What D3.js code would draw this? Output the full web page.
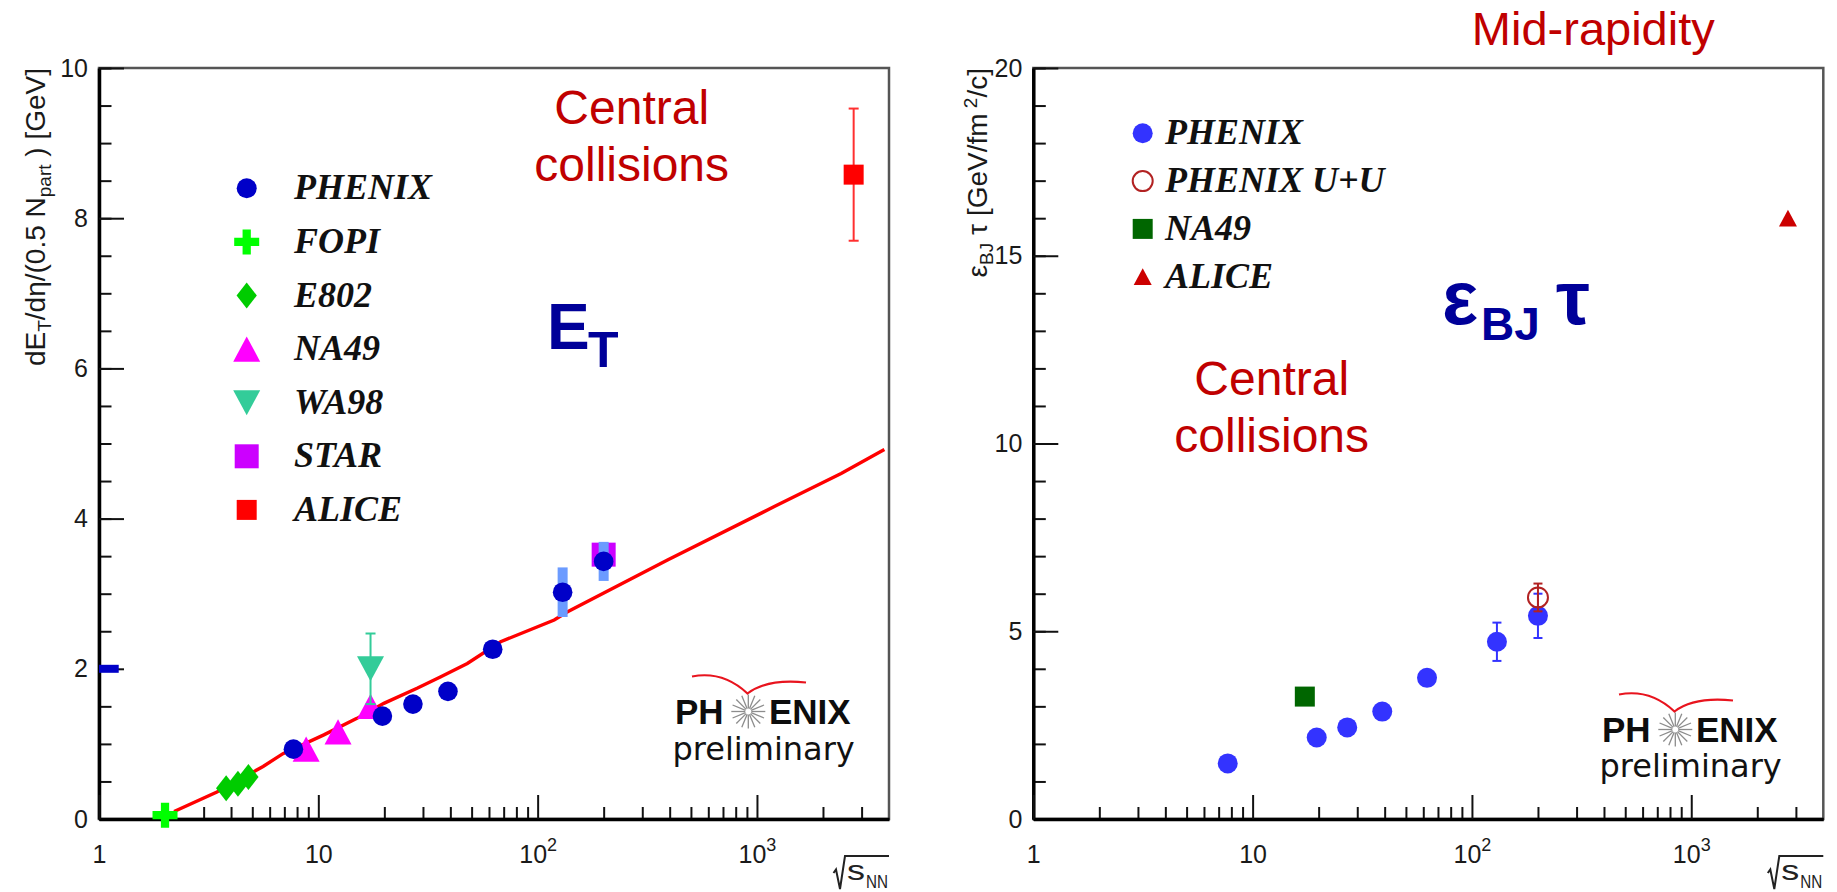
<!DOCTYPE html>
<html>
<head>
<meta charset="utf-8">
<script src="https://cdn.jsdelivr.net/npm/d3@7"></script>
<style>
body { margin: 0; background: #fff; }
svg text { font-family: "Liberation Sans", Arial, sans-serif; }
.leg { font-family: "Liberation Serif", "Times New Roman", serif; font-weight: bold; font-style: italic; }
.prelim { font-family: "DejaVu Sans", "Open Sans", sans-serif; }
</style>
</head>
<body>
<script>
//---- data: left panel, dE_T/deta per participant pair [GeV] vs sqrt(s_NN)
var phenixEtX = [7.7, 19.6, 27, 39, 62.4, 130, 200],
    phenixEtY = [0.93, 1.37, 1.53, 1.70, 2.26, 3.02, 3.43],
    phenixEtSys = [0, 0, 0, 0, 0, 0.33, 0.26];
var fopiX = [2.0], fopiY = [0.05];
var e802X = [3.8, 4.3, 4.8], e802Y = [0.41, 0.47, 0.56];
var na49EtX = [8.8, 12.3, 17.3], na49EtY = [0.93, 1.16, 1.50];
var wa98X = [17.3], wa98Y = [2.0], wa98Err = [0.47];
var starX = [200], starY = [3.52];
var aliceEtX = [2760], aliceEtY = [8.58], aliceEtErr = [0.88];
var strayX = [1, 1.23], strayY = [2.0];   //clipped blue stub at the left edge
//red fit curve
var fitX = [2.2, 3.45, 5.6, 6.9, 10.6, 15, 19.9, 28.2, 36, 47.8, 67.8, 119, 137, 391, 1200, 2420, 3810],
    fitY = [0.10, 0.36, 0.70, 0.87, 1.12, 1.34, 1.54, 1.74, 1.89, 2.07, 2.36, 2.65, 2.76, 3.45, 4.16, 4.60, 4.92];

//---- data: right panel, epsilon_BJ * tau [GeV/fm^2/c]
var phenixEpsX = [7.7, 19.6, 27, 39, 62.4, 130, 200],
    phenixEpsY = [1.48, 2.17, 2.44, 2.86, 3.76, 4.72, 5.41],
    phenixEpsErr = [0, 0, 0, 0, 0, 0.51, 0.59];
var uuX = [200], uuY = [5.90], uuErr = [0.37];
var na49EpsX = [17.3], na49EpsY = [3.26];
var aliceEpsX = [2760], aliceEpsY = [16.0];

//---- axes
var xDomain = [1, 4000],
    xMajor = [1, 10, 100, 1000],
    xMinor = [2, 3, 4, 5, 6, 7, 8, 9, 20, 30, 40, 50, 60, 70, 80, 90,
              200, 300, 400, 500, 600, 700, 800, 900, 2000, 3000];
var etTicks = [0, 2, 4, 6, 8, 10], epsTicks = [0, 5, 10, 15, 20];

var legendEt = ["PHENIX", "FOPI", "E802", "NA49", "WA98", "STAR", "ALICE"],
    legendEps = ["PHENIX", "PHENIX U+U", "NA49", "ALICE"];

//frame geometry
var TOP = 68, PW = 790, PH = 751;

var svg = d3.select("body").append("svg")
    .attr("width", 1837)
    .attr("height", 892);

//marker shapes, centred on 0,0
function marker(type, s) {
    var h;
    if (type == "circle") return d3.symbol(d3.symbolCircle, Math.PI * s * s)();
    if (type == "square") return "M" + (-s) + "," + (-s) + "h" + 2 * s + "v" + 2 * s + "h" + (-2 * s) + "Z";
    if (type == "cross") {
        var w = s * 0.33;
        return "M" + (-w) + "," + (-s) + "H" + w + "V" + (-w) + "H" + s + "V" + w + "H" + w + "V" + s +
               "H" + (-w) + "V" + w + "H" + (-s) + "V" + (-w) + "H" + (-w) + "Z";
    }
    if (type == "diamond") return "M0," + (-s) + "L" + s * 0.78 + ",0L0," + s + "L" + (-s * 0.78) + ",0Z";
    if (type == "triup") { h = s * 0.93; return "M" + (-s) + "," + h + "L" + s + "," + h + "L0," + (-h) + "Z"; }
    if (type == "tridown") { h = s * 0.93; return "M" + (-s) + "," + (-h) + "L" + s + "," + (-h) + "L0," + h + "Z"; }
}

function setPanel(left, yDomain, yMajor, yMinorStep) {
    var g = svg.append("g").attr("transform", "translate(" + left + "," + TOP + ")");
    var x = d3.scaleLog().domain(xDomain).range([0, PW]);
    var y = d3.scaleLinear().domain(yDomain).range([PH, 0]);

    //frame
    g.append("rect")
        .attr("width", PW)
        .attr("height", PH)
        .attr("fill", "none")
        .attr("stroke", "#555")
        .attr("stroke-width", 2.5);

    //minor ticks
    g.append("g")
        .call(d3.axisLeft(y).tickValues(d3.range(yDomain[0], yDomain[1] + 0.001, yMinorStep)).tickSize(-12.5).tickFormat(""))
        .call(function(a) { a.select(".domain").remove(); });
    g.append("g")
        .attr("transform", "translate(0," + PH + ")")
        .call(d3.axisBottom(x).tickValues(xMinor).tickSize(-12).tickFormat(""))
        .call(function(a) { a.select(".domain").remove(); });

    //major ticks with labels
    var yAxis = g.append("g")
        .call(d3.axisLeft(y).tickValues(yMajor).tickSize(-25).tickSizeOuter(0).tickPadding(11).tickFormat(d3.format("d")));
    var xAxis = g.append("g")
        .attr("transform", "translate(0," + PH + ")")
        .call(d3.axisBottom(x).tickValues(xMajor).tickSize(-24).tickSizeOuter(0).tickPadding(26).tickFormat(function(d) {
            return d < 100 ? String(d) : "10";
        }));
    xAxis.selectAll(".tick text").filter(function(d) { return d >= 100; })
        .append("tspan")
        .attr("dy", -12)
        .attr("font-size", 18)
        .text(function(d) { return Math.round(Math.log10(d)); });

    [xAxis, yAxis].forEach(function(a) {
        a.attr("font-family", null).attr("font-size", 25);
        a.selectAll("text").attr("fill", "#1a1a1a");
        a.select(".domain").attr("stroke", "#000").attr("stroke-width", 3.5);
    });
    g.selectAll(".tick line").attr("stroke", "#111").attr("stroke-width", 2);

    //sqrt(s_NN) label at the end of the x axis
    var q = g.append("g").attr("transform", "translate(" + PW + "," + PH + ")");
    q.append("path")
        .attr("d", "M-55.5,54L-53,50.5L-49,70L-44,37H0")
        .attr("fill", "none")
        .attr("stroke", "#222")
        .attr("stroke-width", 2);
    q.append("text").attr("x", -42).attr("y", 61).attr("font-size", 27)
        .attr("textLength", 18).attr("lengthAdjust", "spacingAndGlyphs").attr("fill", "#222").text("s");
    q.append("text").attr("x", -23).attr("y", 69).attr("font-size", 18)
        .attr("textLength", 22).attr("lengthAdjust", "spacingAndGlyphs").attr("fill", "#222").text("NN");

    return {g: g, x: x, y: y};
}

function errorBars(p, xs, ys, es, color, cap) {
    var d = xs.map(function(v, i) { return {x: v, y: ys[i], e: es[i]}; }).filter(function(d) { return d.e > 0; });
    var eb = p.g.append("g").attr("stroke", color).attr("stroke-width", 2);
    eb.selectAll(".v").data(d).enter().append("line")
        .attr("x1", function(d) { return p.x(d.x); })
        .attr("x2", function(d) { return p.x(d.x); })
        .attr("y1", function(d) { return p.y(d.y + d.e); })
        .attr("y2", function(d) { return p.y(d.y - d.e); });
    [1, -1].forEach(function(sgn) {
        eb.selectAll(".c" + sgn).data(d).enter().append("line")
            .attr("x1", function(d) { return p.x(d.x) - cap; })
            .attr("x2", function(d) { return p.x(d.x) + cap; })
            .attr("y1", function(d) { return p.y(d.y + sgn * d.e); })
            .attr("y2", function(d) { return p.y(d.y + sgn * d.e); });
    });
}

function points(p, xs, ys, type, s, fill, stroke) {
    p.g.append("g").selectAll("path")
        .data(xs.map(function(v, i) { return [v, ys[i]]; }))
        .enter().append("path")
        .attr("transform", function(d) { return "translate(" + p.x(d[0]) + "," + p.y(d[1]) + ")"; })
        .attr("d", marker(type, s))
        .attr("fill", fill)
        .attr("stroke", stroke || "none")
        .attr("stroke-width", stroke ? 2 : 0);
}

function legend(items, x0, y0, dy, tx) {
    var lg = svg.append("g");
    items.forEach(function(it, i) {
        lg.append("path")
            .attr("transform", "translate(" + x0 + "," + (y0 + i * dy) + ")")
            .attr("d", marker(it.type, it.s))
            .attr("fill", it.fill)
            .attr("stroke", it.stroke || "none")
            .attr("stroke-width", 2);
        lg.append("text")
            .attr("class", "leg")
            .attr("x", tx)
            .attr("y", y0 + i * dy + 11)
            .attr("font-size", 36)
            .attr("fill", "#111")
            .text(it.name);
    });
}

//PHENIX preliminary stamp, lx/ly = start and baseline of "PH"
function logo(lx, ly, dyPrelim) {
    var lg = svg.append("g").attr("transform", "translate(" + lx + "," + ly + ")");
    lg.append("path")
        .attr("d", "M17,-47Q48,-53 72.5,-30Q92,-45 131,-41")
        .attr("fill", "none")
        .attr("stroke", "#e8141e")
        .attr("stroke-width", 2.2);
    lg.append("text").attr("font-size", 35).attr("font-weight", 700).attr("fill", "#0d0d0d").text("PH");
    lg.append("text").attr("x", 94).attr("font-size", 35).attr("font-weight", 700).attr("fill", "#0d0d0d").text("ENIX");
    var star = lg.append("g").attr("transform", "translate(73.3,-12)");
    d3.range(16).forEach(function(i) {
        var a = i * Math.PI / 8;
        star.append("line")
            .attr("x1", 3 * Math.cos(a)).attr("y1", 3 * Math.sin(a))
            .attr("x2", 17 * Math.cos(a)).attr("y2", 17 * Math.sin(a))
            .attr("stroke", "#8c8c8c")
            .attr("stroke-width", 1.3);
    });
    lg.append("text").attr("class", "prelim").attr("x", -2.5).attr("y", dyPrelim)
        .attr("font-size", 32).attr("fill", "#111").text("preliminary");
}

//============ left panel: E_T
var pEt = setPanel(99, [0, 10], etTicks, 0.5);

pEt.g.append("rect")
    .attr("x", pEt.x(strayX[0]))
    .attr("width", pEt.x(strayX[1]) - pEt.x(strayX[0]))
    .attr("y", pEt.y(strayY[0]) - 4)
    .attr("height", 8)
    .attr("fill", "#0000c8");

pEt.g.append("path")
    .datum(fitX.map(function(v, i) { return [v, fitY[i]]; }))
    .attr("d", d3.line().x(function(d) { return pEt.x(d[0]); }).y(function(d) { return pEt.y(d[1]); }))
    .attr("fill", "none")
    .attr("stroke", "#ff0000")
    .attr("stroke-width", 3.4);

points(pEt, starX, starY, "square", 12, "#cc00ff");
pEt.g.append("g").selectAll("rect")
    .data(phenixEtX.map(function(v, i) { return {x: v, y: phenixEtY[i], e: phenixEtSys[i]}; }).filter(function(d) { return d.e > 0; }))
    .enter().append("rect")
    .attr("x", function(d) { return pEt.x(d.x) - 5; })
    .attr("width", 10)
    .attr("y", function(d) { return pEt.y(d.y + d.e); })
    .attr("height", function(d) { return pEt.y(d.y - d.e) - pEt.y(d.y + d.e); })
    .attr("fill", "#6b9bff");
points(pEt, fopiX, fopiY, "cross", 12.5, "#00ff00");
points(pEt, e802X, e802Y, "diamond", 13, "#00cc00");
points(pEt, na49EtX, na49EtY, "triup", 13.5, "#ff00ff");
errorBars(pEt, wa98X, wa98Y, wa98Err, "#33cc99", 5);
points(pEt, wa98X, wa98Y, "tridown", 13.5, "#33cc99");
points(pEt, phenixEtX, phenixEtY, "circle", 9.8, "#0000c8");
errorBars(pEt, aliceEtX, aliceEtY, aliceEtErr, "#ff3030", 5);
points(pEt, aliceEtX, aliceEtY, "square", 10, "#ff0000");

legend([
    {name: legendEt[0], type: "circle", s: 10, fill: "#0000c8"},
    {name: legendEt[1], type: "cross", s: 12.5, fill: "#00ff00"},
    {name: legendEt[2], type: "diamond", s: 13, fill: "#00cc00"},
    {name: legendEt[3], type: "triup", s: 13.5, fill: "#ff00ff"},
    {name: legendEt[4], type: "tridown", s: 13.5, fill: "#33cc99"},
    {name: legendEt[5], type: "square", s: 12, fill: "#cc00ff"},
    {name: legendEt[6], type: "square", s: 10, fill: "#ff0000"}
], 246.7, 188.3, 53.6, 294);

//y title
var tEt = svg.append("text")
    .attr("transform", "translate(45,68) rotate(-90)")
    .attr("text-anchor", "end")
    .attr("font-size", 28)
    .attr("fill", "#1a1a1a");
tEt.append("tspan").text("dE");
tEt.append("tspan").attr("dy", 6).attr("font-size", 19).text("T");
tEt.append("tspan").attr("dy", -6).text("/d\u03b7/(0.5 N");
tEt.append("tspan").attr("dy", 6).attr("font-size", 19).text("part");
tEt.append("tspan").attr("dy", -6).text(" ) [GeV]");

svg.append("text").attr("x", 631.7).attr("y", 124).attr("text-anchor", "middle")
    .attr("font-size", 48).attr("fill", "#c00000").text("Central");
svg.append("text").attr("x", 631.7).attr("y", 181).attr("text-anchor", "middle")
    .attr("font-size", 48).attr("fill", "#c00000").text("collisions");

svg.append("text").attr("x", 547).attr("y", 349).attr("font-size", 64).attr("font-weight", "bold")
    .attr("fill", "#000099").text("E");
svg.append("text").attr("x", 588).attr("y", 367).attr("font-size", 50).attr("font-weight", "bold")
    .attr("fill", "#000099").text("T");

logo(675, 723.5, 36.5);

//============ right panel: epsilon_BJ tau
var pEps = setPanel(1033.3, [0, 20], epsTicks, 1);

points(pEps, na49EpsX, na49EpsY, "square", 10, "#006600");
errorBars(pEps, phenixEpsX, phenixEpsY, phenixEpsErr, "#3333ff", 4.5);
points(pEps, phenixEpsX, phenixEpsY, "circle", 10, "#3333ff");
errorBars(pEps, uuX, uuY, uuErr, "#b22222", 4.5);
points(pEps, uuX, uuY, "circle", 10, "none", "#b22222");
points(pEps, aliceEpsX, aliceEpsY, "triup", 9, "#cc0000");

legend([
    {name: legendEps[0], type: "circle", s: 10, fill: "#3333ff"},
    {name: legendEps[1], type: "circle", s: 10, fill: "none", stroke: "#b22222"},
    {name: legendEps[2], type: "square", s: 10, fill: "#006600"},
    {name: legendEps[3], type: "triup", s: 9, fill: "#cc0000"}
], 1142.7, 133.3, 47.8, 1165);

var tEps = svg.append("text")
    .attr("transform", "translate(987,68) rotate(-90)")
    .attr("text-anchor", "end")
    .attr("font-size", 28)
    .attr("fill", "#1a1a1a");
tEps.append("tspan").text("\u03b5");
tEps.append("tspan").attr("dy", 6).attr("font-size", 19).text("BJ");
tEps.append("tspan").attr("dy", -6).text(" \u03c4 [GeV/fm");
tEps.append("tspan").attr("dy", -10).attr("font-size", 19).text(" 2");
tEps.append("tspan").attr("dy", 10).text("/c]");

svg.append("text").attr("x", 1593.3).attr("y", 45).attr("text-anchor", "middle")
    .attr("font-size", 47).attr("fill", "#c00000").text("Mid-rapidity");
svg.append("text").attr("x", 1271.7).attr("y", 395).attr("text-anchor", "middle")
    .attr("font-size", 48).attr("fill", "#c00000").text("Central");
svg.append("text").attr("x", 1271.7).attr("y", 452).attr("text-anchor", "middle")
    .attr("font-size", 48).attr("fill", "#c00000").text("collisions");

svg.append("text").attr("x", 1442).attr("y", 324).attr("font-size", 76).attr("font-weight", "bold")
    .attr("fill", "#000099").text("\u03b5");
svg.append("text").attr("x", 1481).attr("y", 340).attr("font-size", 46).attr("font-weight", "bold")
    .attr("fill", "#000099").text("BJ");
svg.append("text").attr("x", 1556).attr("y", 324).attr("font-size", 76).attr("font-weight", "bold")
    .attr("fill", "#000099").text("\u03c4");

logo(1602, 741.5, 35);
</script>
</body>
</html>
